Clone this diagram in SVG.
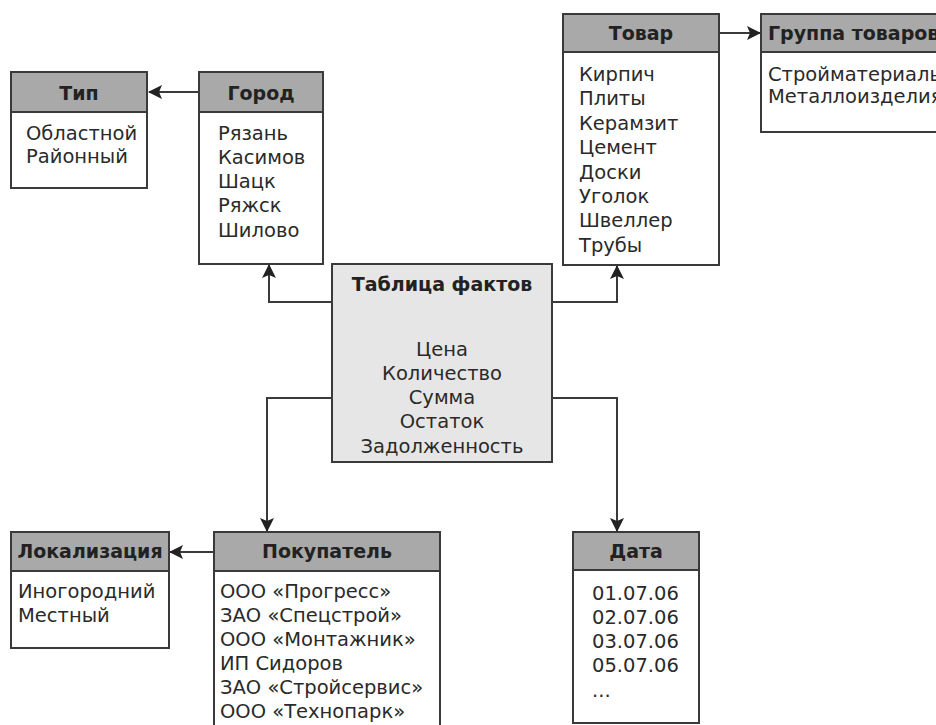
<svg xmlns="http://www.w3.org/2000/svg" width="936" height="725" viewBox="0 0 936 725">
  <style>
    .box { fill: #ffffff; stroke: #3a3a3a; stroke-width: 2; }
    .head { fill: #a9a9a9; stroke: #3a3a3a; stroke-width: 2; }
    .fact { fill: #e6e6e6; stroke: #3a3a3a; stroke-width: 2; }
    .title { font-family: "DejaVu Sans", "Liberation Sans", sans-serif; font-size: 19px; font-weight: bold; fill: #222; text-anchor: middle; }
    .item { font-family: "DejaVu Sans", "Liberation Sans", sans-serif; font-size: 19.5px; fill: #2a2a2a; }
    .mid { text-anchor: middle; }
    .link { fill: none; stroke: #3a3a3a; stroke-width: 2; }
  </style>
  <defs>
    <marker id="arrow" markerUnits="userSpaceOnUse" markerWidth="14" markerHeight="14" refX="13" refY="7" orient="auto">
      <path d="M0,0 L14,7 L0,14 L3,7 Z" fill="#222"/>
    </marker>
  </defs>

  <rect width="936" height="725" fill="#ffffff"/>

  <!-- connectors -->
  <g id="connectors">
    <path class="link" d="M199,92 H149" marker-end="url(#arrow)"/>
    <path class="link" d="M719,33 H760" marker-end="url(#arrow)"/>
    <path class="link" d="M214,552 H170" marker-end="url(#arrow)"/>
    <path class="link" d="M332,302 H269 V265" marker-end="url(#arrow)"/>
    <path class="link" d="M552,302 H617 V266" marker-end="url(#arrow)"/>
    <path class="link" d="M332,398 H267 V531" marker-end="url(#arrow)"/>
    <path class="link" d="M552,398 H617 V531" marker-end="url(#arrow)"/>
  </g>

  <!-- Тип -->
  <g id="tip">
    <rect class="box" x="11" y="72" width="136" height="116"/>
    <rect class="head" x="11" y="72" width="136" height="40"/>
    <text class="title" x="79" y="100">Тип</text>
    <text class="item" x="26" y="140">Областной</text>
    <text class="item" x="26" y="163">Районный</text>
  </g>

  <!-- Город -->
  <g id="gorod">
    <rect class="box" x="199" y="72" width="124" height="192"/>
    <rect class="head" x="199" y="72" width="124" height="40"/>
    <text class="title" x="261" y="100">Город</text>
    <text class="item" x="218" y="140">Рязань</text>
    <text class="item" x="218" y="164">Касимов</text>
    <text class="item" x="218" y="188">Шацк</text>
    <text class="item" x="218" y="212">Ряжск</text>
    <text class="item" x="218" y="237">Шилово</text>
  </g>

  <!-- Товар -->
  <g id="tovar">
    <rect class="box" x="563" y="14" width="156" height="251"/>
    <rect class="head" x="563" y="14" width="156" height="38"/>
    <text class="title" x="641" y="40">Товар</text>
    <text class="item" x="579" y="81">Кирпич</text>
    <text class="item" x="579" y="105">Плиты</text>
    <text class="item" x="579" y="130">Керамзит</text>
    <text class="item" x="579" y="154">Цемент</text>
    <text class="item" x="579" y="179">Доски</text>
    <text class="item" x="579" y="203">Уголок</text>
    <text class="item" x="579" y="227">Швеллер</text>
    <text class="item" x="579" y="252">Трубы</text>
  </g>

  <!-- Группа товаров (runs past the right edge) -->
  <g id="gruppa">
    <rect class="box" x="761" y="14" width="200" height="118"/>
    <rect class="head" x="761" y="14" width="200" height="38"/>
    <text class="title" x="768" y="40" style="text-anchor:start">Группа товаров</text>
    <text class="item" x="768" y="81">Стройматериалы</text>
    <text class="item" x="768" y="103">Металлоизделия</text>
  </g>

  <!-- Таблица фактов -->
  <g id="fakty">
    <rect class="fact" x="332" y="264" width="220" height="198"/>
    <text class="title" x="442" y="291">Таблица фактов</text>
    <text class="item mid" x="442" y="356">Цена</text>
    <text class="item mid" x="442" y="380">Количество</text>
    <text class="item mid" x="442" y="404">Сумма</text>
    <text class="item mid" x="442" y="428">Остаток</text>
    <text class="item mid" x="442" y="453">Задолженность</text>
  </g>

  <!-- Локализация -->
  <g id="lokalizaciya">
    <rect class="box" x="11" y="532" width="158" height="116"/>
    <rect class="head" x="11" y="532" width="158" height="39"/>
    <text class="title" x="90" y="558">Локализация</text>
    <text class="item" x="18" y="598">Иногородний</text>
    <text class="item" x="18" y="622">Местный</text>
  </g>

  <!-- Покупатель -->
  <g id="pokupatel">
    <rect class="box" x="214" y="532" width="226" height="210"/>
    <rect class="head" x="214" y="532" width="226" height="39"/>
    <text class="title" x="327" y="558">Покупатель</text>
    <text class="item" x="220" y="598">ООО «Прогресс»</text>
    <text class="item" x="220" y="622">ЗАО «Спецстрой»</text>
    <text class="item" x="220" y="646">ООО «Монтажник»</text>
    <text class="item" x="220" y="670">ИП Сидоров</text>
    <text class="item" x="220" y="694">ЗАО «Стройсервис»</text>
    <text class="item" x="220" y="718">ООО «Технопарк»</text>
  </g>

  <!-- Дата -->
  <g id="data">
    <rect class="box" x="573" y="532" width="126" height="191"/>
    <rect class="head" x="573" y="532" width="126" height="38"/>
    <text class="title" x="636" y="558">Дата</text>
    <text class="item" x="592" y="600">01.07.06</text>
    <text class="item" x="592" y="624">02.07.06</text>
    <text class="item" x="592" y="648">03.07.06</text>
    <text class="item" x="592" y="672">05.07.06</text>
    <text class="item" x="592" y="697">...</text>
  </g>
</svg>
